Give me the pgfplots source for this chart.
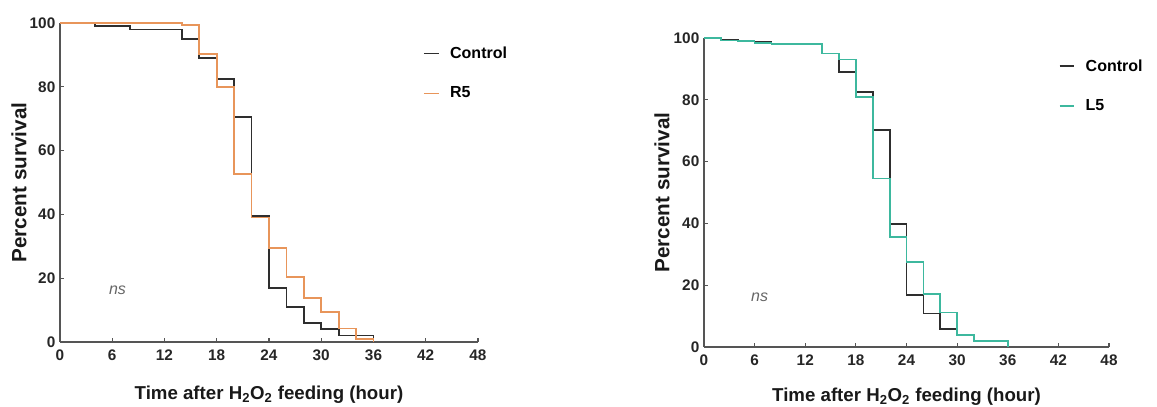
\documentclass[border=0pt]{standalone}
\usepackage{fontspec}
\setmainfont{Liberation Sans}
\usepackage{pgfplots}
\pgfplotsset{compat=1.18}
\definecolor{ctrl}{HTML}{2E2E2E}
\definecolor{rfive}{HTML}{E8955A}
\definecolor{lfive}{HTML}{3DB89E}
\definecolor{axgray}{HTML}{555555}
\pgfplotsset{
  survstyle/.style={
    scale only axis,
    xmin=0, xmax=48, ymin=0, ymax=100,
    axis lines*=left,
    axis line style={axgray, line width=1.1pt},
    xtick={0,6,...,48}, ytick={0,20,...,100},
    tick align=inside,
    major tick length=3pt,
    tick style={axgray, line width=0.8pt},
    clip=false,
    /pgf/number format/assume math mode=true,
    tick label style={font=\bfseries\fontsize{11.5}{13}\selectfont, text=black!85},
    xticklabel style={yshift=-2pt},
    xlabel style={font=\bfseries\fontsize{14}{16}\selectfont, text=black!90},
    ylabel style={font=\bfseries\fontsize{15.5}{17}\selectfont, text=black!90},
    xlabel={Time after H\textsubscript{2}O\textsubscript{2} feeding (hour)},
    ylabel={Percent survival},
    legend cell align=left,
    legend image code/.code={\draw[#1] (0pt,0pt) -- (11pt,0pt);},
    legend style={draw=none, fill=none, font=\bfseries\fontsize{12}{14}\selectfont, row sep=16pt, column sep=6pt, inner sep=0pt},
  }
}
\begin{document}
\begin{tikzpicture}
\useasboundingbox (0,0) rectangle (867.75pt,305.25pt);
% Left panel
\begin{axis}[survstyle,
  at={(45pt,48.75pt)}, anchor=south west,
  width=313.5pt, height=239.25pt,
  xlabel style={at={(axis description cs:0.5,-0.166)}, anchor=center},
  ylabel style={at={(axis description cs:-0.098,0.5)}, anchor=center},
  legend style={at={(rel axis cs:0.868,0.935)}, anchor=north west},
]
\addplot[const plot, ctrl, line width=1.3pt] coordinates {
(0,100) (4,99) (8,98) (14,95) (16,89) (18,82.5) (20,70.5) (22,39.5) (24,17) (26,11) (28,6) (30,4) (32,2) (34,2) (36,0)};
\addlegendentry{Control}
\addplot[const plot, rfive, line width=1.3pt] coordinates {
(0,100) (14,99.3) (16,90.3) (18,80) (20,52.6) (22,39) (24,29.5) (26,20.3) (28,13.7) (30,9.4) (32,4.2) (34,1) (36,0)};
\addlegendentry{R5}
\node[font=\itshape\fontsize{12}{14}\selectfont, text=black!60] at (axis cs:6.6,16.3) {ns};
\end{axis}
% Right panel
\begin{axis}[survstyle,
  at={(528pt,45pt)}, anchor=south west,
  width=303.75pt, height=231.75pt,
  xlabel style={at={(axis description cs:0.5,-0.162)}, anchor=center},
  ylabel style={at={(axis description cs:-0.104,0.5)}, anchor=center},
  legend style={at={(rel axis cs:0.875,0.94)}, anchor=north west},
]
\addplot[const plot, ctrl, line width=1.3pt] coordinates {
(0,100) (2,99.5) (4,99) (6,98.7) (8,98) (14,95) (16,89) (18,82.5) (20,70.3) (22,39.7) (24,16.8) (26,10.8) (28,5.8) (30,4) (32,2) (34,2) (36,0)};
\addlegendentry{Control}
\addplot[const plot, lfive, line width=1.3pt] coordinates {
(0,100) (2,99.2) (4,99) (6,98.3) (8,98) (14,95) (16,93) (18,80.9) (20,54.5) (22,35.5) (24,27.4) (26,17.2) (28,11.2) (30,4) (32,2) (34,2) (36,0)};
\addlegendentry{L5}
\node[font=\itshape\fontsize{12}{14}\selectfont, text=black!60] at (axis cs:6.6,16.2) {ns};
\end{axis}
\end{tikzpicture}
\end{document}
